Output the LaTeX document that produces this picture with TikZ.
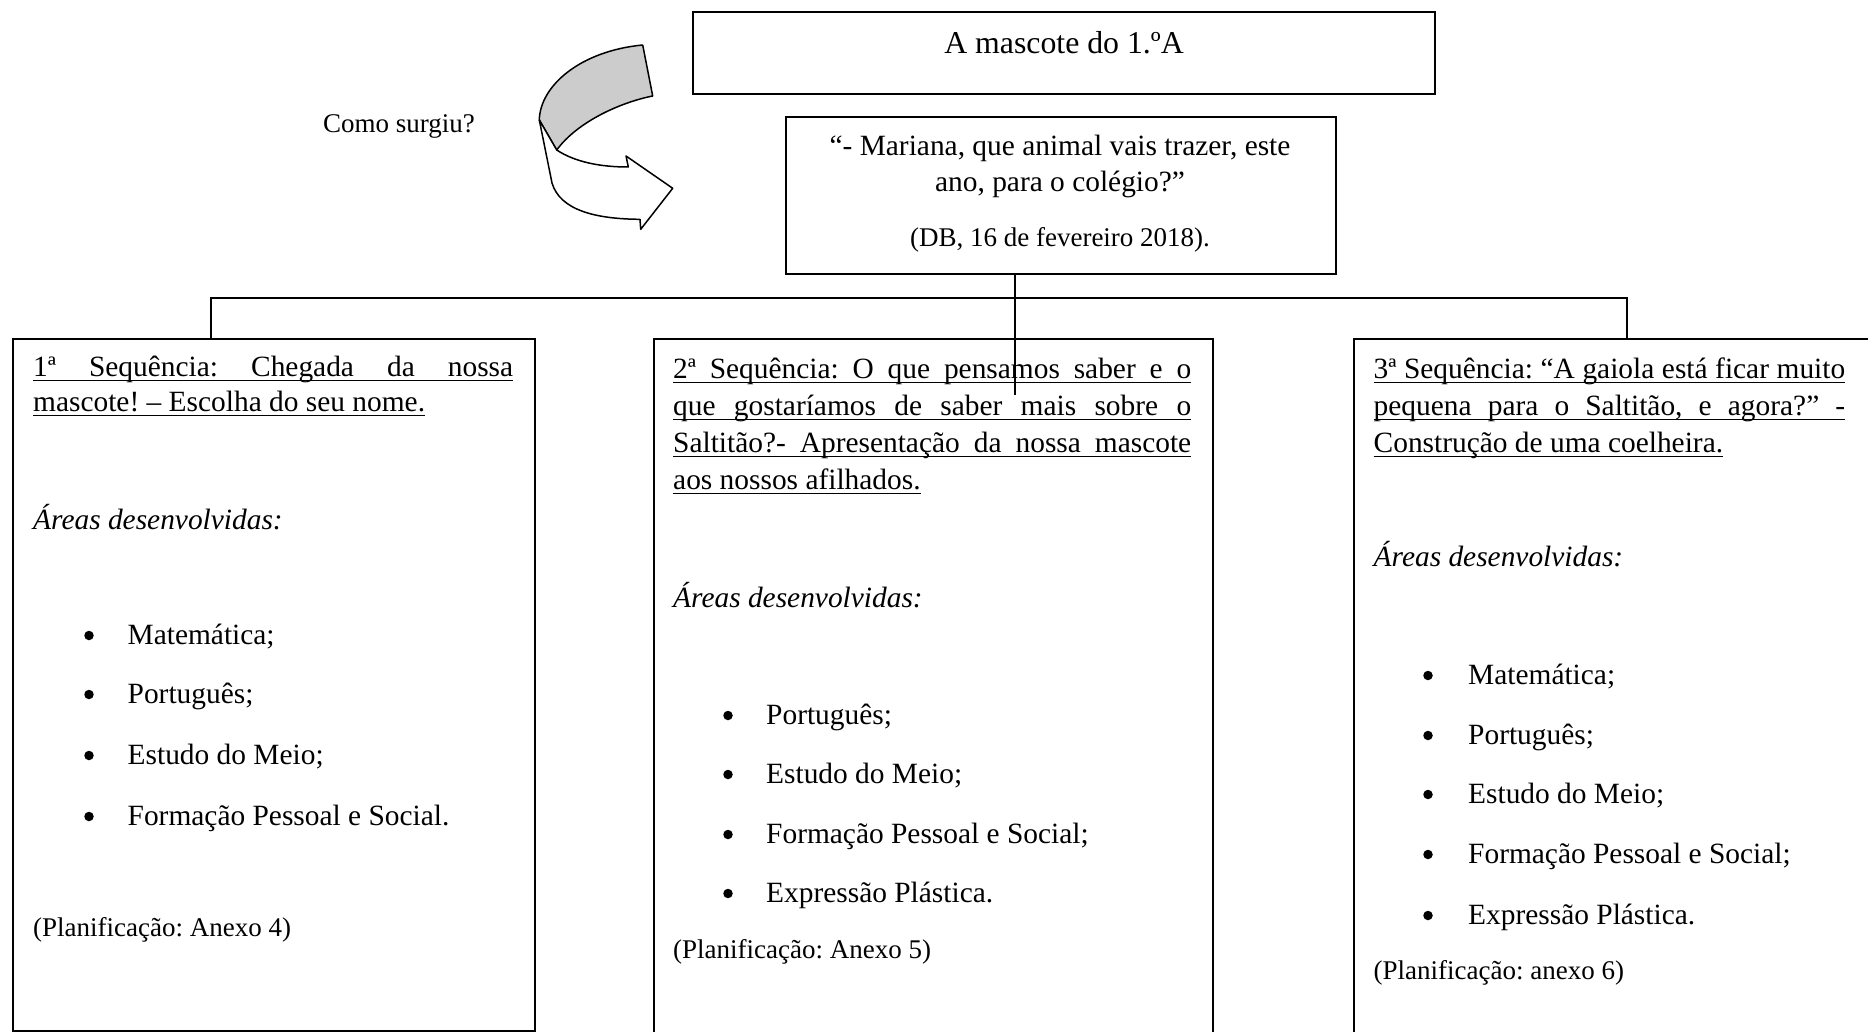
\documentclass[tikz,border=0pt]{standalone}
\usepackage{fontspec}
\setmainfont{Liberation Serif}
\frenchspacing
\newcommand{\wul}[1]{\setbox0=\hbox{#1}\rlap{\rule[-4.6pt]{\wd0}{1.6pt}}\box0}
\begin{document}
\begin{tikzpicture}[x=1pt,y=-1pt,
  box/.style={draw,line width=1.8pt,inner sep=0pt,anchor=north west},
  conn/.style={line width=1.8pt},
  tx/.style={inner sep=0pt,anchor=west,yshift=-3pt,font=\fontsize{29.4}{36}\selectfont,text height=21pt,text depth=6pt},
  sm/.style={inner sep=0pt,anchor=west,yshift=-3pt,font=\fontsize{27}{33}\selectfont,text height=19pt,text depth=5.5pt},
  it/.style={tx,font=\fontsize{29.4}{36}\selectfont\itshape},
  bul/.style={circle,fill=black,inner sep=0pt,minimum size=9.5pt},
  arr/.style={draw,line width=1.5pt,line join=round}
]
\useasboundingbox (0,0) rectangle (1868,1032);
\clip (0,0) rectangle (1868,1032);

% boxes
\node[box,minimum width=742pt,minimum height=82pt] (top) at (692,11) {};
\node[box,minimum width=550pt,minimum height=157pt] (q) at (785,116) {};
\node[box,minimum width=522pt,minimum height=692pt] (b1) at (12,338) {};
\node[box,minimum width=559pt,minimum height=720pt] (b2) at (653,338) {};
\node[box,minimum width=530pt,minimum height=720pt] (b3) at (1353,338) {};

% connectors
\coordinate (h1) at (211,298);
\coordinate (h3) at (1627,298);
\coordinate (j) at (1015,298);
\coordinate (e2) at (1015,395);
\draw[conn] (b1.north -| h1) -- (h1) -- (h3) -- (b3.north -| h3);
\draw[conn] (q.south -| j) -- (e2);

% curved arrow
\path[arr,fill=gray!40] (539.3,120) .. controls (540,86) and (580,51) .. (642.7,45)
  -- (652.7,96) .. controls (622,102) and (578,121) .. (556.7,150) -- cycle;
\path[arr,fill=white] (539.3,120) -- (556.7,150) .. controls (575,162) and (600,167) .. (628.3,167)
  -- (626,156) -- (672.7,188.3) -- (640.7,229.3) -- (640,219.3)
  .. controls (595,219) and (560,210) .. (552,183) -- cycle;

% top texts
\node[tx,anchor=center,font=\fontsize{31.8}{38}\selectfont] (ttl) at (1064,43) {A mascote do 1.ºA};
\node[tx,anchor=center] (q1) at (1060,145) {“- Mariana, que animal vais trazer, este};
\node[tx,anchor=center] (q2) at (1060,181) {ano, para o colégio?”};
\node[sm,anchor=center] (q3) at (1060,237) {(DB, 16 de fevereiro 2018).};
\node[sm,anchor=center] (como) at (399,123) {Como surgiu?};

% box 1
\node[tx] (s1a) at (33,366) {\wul{\makebox[480pt][s]{1ª Sequência: Chegada da nossa}}};
\node[tx] (s1b) at (33,401) {\wul{mascote! – Escolha do seu nome.}};
\node[it] (a1) at (33,519) {Áreas desenvolvidas:};
\node[bul] (p1a) at (89,635.5) {};
\node[tx] (i1a) at (127.5,634) {Matemática;};
\node[bul] (p1b) at (89,694.5) {};
\node[tx] (i1b) at (127.5,693) {Português;};
\node[bul] (p1c) at (89,755.5) {};
\node[tx] (i1c) at (127.5,754) {Estudo do Meio;};
\node[bul] (p1d) at (89,816.5) {};
\node[tx] (i1d) at (127.5,815) {Formação Pessoal e Social.};
\node[sm] (pl1) at (33,927) {(Planificação: Anexo 4)};

% box 2
\node[tx] (s2a) at (673,368) {\wul{\makebox[518pt][s]{2ª Sequência: O que pensamos saber e o}}};
\node[tx] (s2b) at (673,405) {\wul{\makebox[518pt][s]{que gostaríamos de saber mais sobre o}}};
\node[tx] (s2c) at (673,442) {\wul{\makebox[518pt][s]{Saltitão?- Apresentação da nossa mascote}}};
\node[tx] (s2d) at (673,479) {\wul{aos nossos afilhados.}};
\node[it] (a2) at (673,597) {Áreas desenvolvidas:};
\node[bul] (p2a) at (728,715.5) {};
\node[tx] (i2a) at (766,714) {Português;};
\node[bul] (p2b) at (728,774.5) {};
\node[tx] (i2b) at (766,773) {Estudo do Meio;};
\node[bul] (p2c) at (728,834.5) {};
\node[tx] (i2c) at (766,833) {Formação Pessoal e Social;};
\node[bul] (p2d) at (728,893.5) {};
\node[tx] (i2d) at (766,892) {Expressão Plástica.};
\node[sm] (pl2) at (673,949) {(Planificação: Anexo 5)};

% box 3
\node[tx] (s3a) at (1373.5,368) {\wul{\makebox[471.5pt][s]{3ª Sequência: “A gaiola está ficar muito}}};
\node[tx] (s3b) at (1373.5,405) {\wul{\makebox[471.5pt][s]{pequena para o Saltitão, e agora?” -}}};
\node[tx] (s3c) at (1373.5,442) {\wul{Construção de uma coelheira.}};
\node[it] (a3) at (1373.5,556) {Áreas desenvolvidas:};
\node[bul] (p3a) at (1428,675.5) {};
\node[tx] (i3a) at (1468,674) {Matemática;};
\node[bul] (p3b) at (1428,735.5) {};
\node[tx] (i3b) at (1468,734) {Português;};
\node[bul] (p3c) at (1428,794.5) {};
\node[tx] (i3c) at (1468,793) {Estudo do Meio;};
\node[bul] (p3d) at (1428,854.5) {};
\node[tx] (i3d) at (1468,853) {Formação Pessoal e Social;};
\node[bul] (p3e) at (1428,915.5) {};
\node[tx] (i3e) at (1468,914) {Expressão Plástica.};
\node[sm] (pl3) at (1373.5,970) {(Planificação: anexo 6)};
\end{tikzpicture}
\end{document}
